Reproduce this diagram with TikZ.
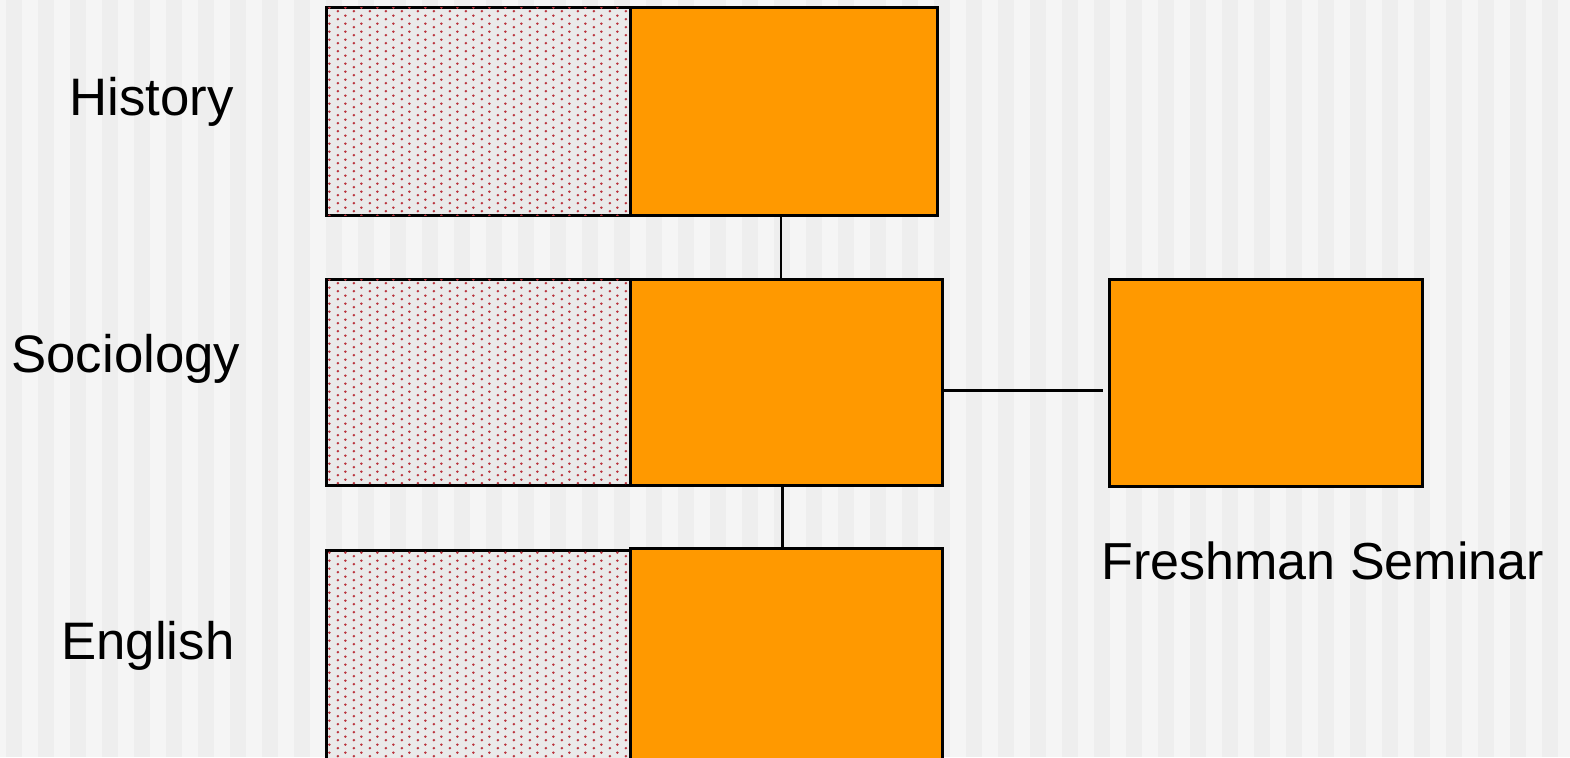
\documentclass[tikz,border=0pt]{standalone}
\definecolor{stripelight}{RGB}{245, 245, 245}
\definecolor{stripedark}{RGB}{238, 238, 238}
\definecolor{deptorange}{RGB}{255, 153, 0}
\definecolor{dotgray}{RGB}{234, 234, 234}
\definecolor{dotred}{RGB}{185, 50, 60}
\usepackage{fontspec}
\setmainfont{Liberation Sans}
\usepackage{tikz}
\usetikzlibrary{positioning, patterns}
\pgfdeclarepatternformonly{roomdots}{\pgfpointorigin}{\pgfqpoint{4.552pt}{2.276pt}}{\pgfqpoint{4.552pt}{2.276pt}}{
  \pgfpathcircle{\pgfqpoint{0.569pt}{0.569pt}}{0.42pt}
  \pgfpathcircle{\pgfqpoint{2.845pt}{1.707pt}}{0.42pt}
  \pgfusepath{fill}
}

\begin{document}
\begin{tikzpicture}[x=0.01cm, y=-0.01cm, line width=0.8pt,
    dotbox/.style={draw, fill=dotgray, postaction={pattern=roomdots, pattern color=dotred}, anchor=north west, inner sep=0pt},
    deptbox/.style={draw, fill=deptorange, anchor=north west, inner sep=0pt},
    deptlabel/.style={font=\fontsize{15}{18}\selectfont, anchor=base west, inner sep=0pt},
    link/.style={draw, line width=0.8pt}]
  \useasboundingbox (0,0) rectangle (1570,757);
  \clip (0,0) rectangle (1570,757);

  % Striped background
  \fill[stripelight] (0,0) rectangle (1570,757);
  \foreach \x in {6,38,...,1574}
    \fill[stripedark] (\x,0) rectangle ++(16,757);

  % Department rows
  \node[dotbox, minimum width=3.04cm, minimum height=2.08cm] (histdots) at (325,6) {};
  \node[deptbox, minimum width=3.07cm, minimum height=2.08cm] (histbox) at (629,6) {};
  \node[dotbox, minimum width=3.04cm, minimum height=2.06cm] (socdots) at (325,278) {};
  \node[deptbox, minimum width=3.12cm, minimum height=2.06cm] (socbox) at (629,278) {};
  \node[dotbox, minimum width=3.04cm, minimum height=2.4cm] (engdots) at (325,549) {};
  \node[deptbox, minimum width=3.12cm, minimum height=2.4cm] (engbox) at (629,547) {};

  % Seminar
  \node[deptbox, minimum width=3.13cm, minimum height=2.07cm] (seminar) at (1108,278) {};

  % Labels
  \node[deptlabel] (histlabel) at (68,115) {History};
  \node[deptlabel] (soclabel) at (10,372) {Sociology};
  \node[deptlabel] (englabel) at (60,659) {English};
  \node[deptlabel, font=\fontsize{14.8}{18}\selectfont] (semlabel) at (1100,579) {Freshman Seminar};

  % Links
  \draw[link] ([xshift=-0.03cm]histbox.south) -- ([xshift=-0.03cm]histbox.south |- socbox.north);
  \draw[link] ([xshift=-0.04cm]socbox.south) -- ([xshift=-0.04cm]socbox.south |- engbox.north);
  \draw[link, shorten >=0.05cm] (socbox.-3.3) -- (socbox.-3.3 -| seminar.west);
\end{tikzpicture}
\end{document}
